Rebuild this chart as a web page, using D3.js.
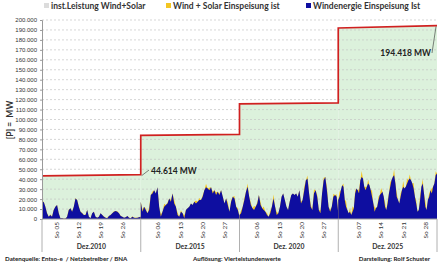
<!DOCTYPE html>
<html>
<head>
<meta charset="utf-8">
<script src="https://cdn.jsdelivr.net/npm/d3@7"></script>
<style>
  body { margin: 0; background: #fff; }
  svg { display: block; font-family: Lato, "Open Sans", sans-serif; }
</style>
</head>
<body>
<svg id="chart" width="440" height="264"></svg>
<script>
// Monate (je 31 Tage)
const monate = ["Dez.2010", "Dez.2015", "Dez. 2020", "Dez. 2025"];
// Sonntage pro Monat
const sonntage = [[5, 12, 19, 26], [6, 13, 20, 27], [6, 13, 20, 27], [7, 14, 21, 28]];

// installierte Leistung Wind+Solar (Monatsanfang / Monatsende) in MW
const leistungStart = [43300, 84000, 115800, 192000];
const leistungEnde = [44614, 85000, 116700, 194418];

// Windenergie Einspeisung (MW), gleichmaessig ueber den Monat verteilt
const wind2010 = [15700,17300,12300,5700,2300,4000,2300,9000,12300,14000,5700,700,700,300,300,2300,9000,10700,7300,12300,20700,19000,12300,7300,5700,4000,4000,9000,2300,700,5700,7300,2300,1300,2300,5700,4000,2300,1300,700,3000,4000,5700,7300,8000,7300,5700,3000,2300,1300,1700,3000,1300,700,2300,1300,1000,1300,1700,2300];
const wind2015 = [17300,7300,12300,9000,5700,9000,24000,25700,29000,25700,32000,12300,2300,7300,12300,14000,15700,20700,17300,25700,15700,12300,4000,2300,7300,5700,700,9000,10700,12300,15700,14000,17300,15700,17300,19000,19000,22300,29000,32000,30700,29000,32000,25700,29000,24000,27300,24000,29000,22300,15700,20700,14000,7300,17300,22300,20700,12300,9000,2300];
const wind2020 = [4000,5700,12300,19000,27300,32300,22300,14000,10700,9000,12300,15700,24000,14000,10700,9000,7300,4000,2300,5700,12300,20700,12300,4000,5700,12300,22300,25700,19000,12300,9000,17300,24000,25700,24000,25700,22300,29000,15700,19000,29000,39000,40700,25700,12300,9000,25700,29000,22300,9000,5700,25700,39000,42300,29000,12300,7300,12300,22300,24000,22300,5700];
const wind2025 = [19000,22300,29000,34000,32300,19000,12300,9000,5700,7300,4000,7300,10700,25700,30700,29000,25700,39000,42300,40700,32300,29000,32300,35700,34000,29000,22300,15700,7300,10700,12300,19000,24000,25700,27300,22300,12300,9000,15700,25700,32300,39000,42300,44000,35700,22300,19000,15700,22300,29000,32300,30700,32300,35700,39000,40700,39000,35700,30700,22300,15700,7300,9000,19000,32300,35700,25700,12300,9000,19000,22300,29000,25700,32300,35700,44000,45700];

// Solar-Tagesspitze (MW) pro Tag, wird zur Mittagszeit addiert
const solar2010 = [600,400,800,300,500,700,400,300,600,500,300,400,700,500,300,400,600,300,200,400,500,300,400,600,300,500,400,300,500,400,300];
const solar2015 = [2500,1500,3000,2000,3500,1500,2500,3000,1000,2000,3500,2500,1500,3000,2000,1500,2500,3000,2000,1500,3500,2500,2000,3000,1500,2500,2000,3000,1500,2500,2000];
const solar2020 = [3000,2000,3500,2500,4000,1500,3000,3500,2000,2500,4000,3000,2000,3500,2500,2000,3000,4000,2500,2000,3500,3000,2500,4000,2000,3000,2500,3500,2000,3000,2500];
const solar2025 = [5000,3500,6000,4000,5500,3000,4500,6000,3500,4000,6500,5000,3500,5500,4500,3000,5000,6000,4000,3500,6000,5000,4000,5500,3500,5000,4500,6000,3500,5000,4000];

const windDaten = [wind2010, wind2015, wind2020, wind2025];
const solarDaten = [solar2010, solar2015, solar2020, solar2025];

const yTicks = d3.range(0, 200001, 10000);

const svg = d3.select("#chart");
const pLeft = 42, pRight = 437, pTop = 20, pBottom = 219;

const x = d3.scaleBand().domain(monate).range([pLeft, pRight]).padding(0);
const y = d3.scaleLinear().domain([0, 200000]).range([pBottom, pTop]);
const fmt = d3.formatLocale({decimal: ",", thousands: ".", grouping: [3], currency: ["", "€"]}).format(",.0f");

// Tages-Skala pro Monat
function tagSkala(m) {
    return d3.scaleLinear().domain([0, 31]).range([x(m), x(m) + x.bandwidth()]);
}

// installierte Leistung: gruene Flaeche
monate.forEach((m, i) => {
    const xs = tagSkala(m);
    const pts = [{t: 0, v: leistungStart[i]}, {t: 31, v: leistungEnde[i]}];
    svg.append("path")
        .datum(pts)
        .attr("d", d3.area().x(d => xs(d.t)).y0(y(0)).y1(d => y(d.v)))
        .attr("fill", "#dcf1dc");
});

// Gitterlinien
svg.append("g")
    .selectAll("line")
    .data(yTicks.slice(1))
    .enter()
    .append("line")
    .attr("x1", pLeft).attr("x2", pRight)
    .attr("y1", d => y(d)).attr("y2", d => y(d))
    .attr("stroke", "#c4c4c4")
    .attr("stroke-width", 0.7)
    .attr("stroke-dasharray", "2,2");

// Wind + Solar und Wind
monate.forEach((m, i) => {
    const xs = tagSkala(m);
    const w = windDaten[i];
    const n = w.length;
    const pts = w.map((v, k) => {
        const t = k / (n - 1) * 31;
        const tag = Math.min(30, Math.floor(t));
        const frac = t - Math.floor(t);
        const s = (frac > 0.3 && frac < 0.7) ? solarDaten[i][tag] : 0;
        return {t: t, wind: v, ws: v + s};
    });
    svg.append("path")
        .datum(pts)
        .attr("d", d3.area().x(d => xs(d.t)).y0(y(0)).y1(d => y(d.ws)))
        .attr("fill", "#f3c623");
    svg.append("path")
        .datum(pts)
        .attr("d", d3.area().x(d => xs(d.t)).y0(y(0)).y1(d => y(d.wind)))
        .attr("fill", "#0e0ea0");
});

// rote Stufenlinie
const stufen = [];
monate.forEach((m, i) => {
    const xs = tagSkala(m);
    stufen.push([xs(0), y(leistungStart[i])]);
    stufen.push([xs(31), y(leistungEnde[i])]);
});
svg.append("path")
    .attr("d", d3.line()(stufen))
    .attr("fill", "none")
    .attr("stroke", "#d02020")
    .attr("stroke-width", 1.7);

// y-Achse
const yAxis = svg.append("g")
    .attr("transform", `translate(${pLeft},0)`)
    .call(d3.axisLeft(y).tickValues(yTicks).tickFormat(fmt).tickSize(2).tickPadding(3));
yAxis.select(".domain").attr("stroke", "#9a9a9a");
yAxis.selectAll(".tick line").attr("stroke", "#9a9a9a");
yAxis.selectAll("text").style("font-size", "6px").style("fill", "#333");

// x-Achse
svg.append("line")
    .attr("x1", pLeft).attr("x2", pRight)
    .attr("y1", pBottom).attr("y2", pBottom)
    .attr("stroke", "#9a9a9a");

// Monatstrennlinien
svg.append("g")
    .selectAll("line")
    .data(monate.concat(["ende"]))
    .enter()
    .append("line")
    .attr("x1", (d, i) => i < monate.length ? x(d) : pRight)
    .attr("x2", (d, i) => i < monate.length ? x(d) : pRight)
    .attr("y1", pBottom).attr("y2", 252)
    .attr("stroke", "#b0b0b0");

// Sonntage
monate.forEach((m, i) => {
    const xs = tagSkala(m);
    svg.append("g")
        .selectAll("text")
        .data(sonntage[i])
        .enter()
        .append("text")
        .attr("transform", d => `translate(${xs(d - 0.5) + 2.2},222) rotate(-90)`)
        .attr("text-anchor", "end")
        .style("font-size", "6.5px")
        .style("fill", "#333")
        .text(d => "So " + String(d).padStart(2, "0"));
});

// Monatsbeschriftung
svg.append("g")
    .selectAll("text")
    .data(monate)
    .enter()
    .append("text")
    .attr("x", d => x(d) + x.bandwidth() / 2)
    .attr("y", 249)
    .attr("text-anchor", "middle")
    .style("font-size", "6.8px")
    .style("font-weight", "bold")
    .style("fill", "#333")
    .text(d => d);

// Achsentitel
svg.append("text")
    .attr("transform", "translate(13,120) rotate(-90)")
    .attr("text-anchor", "middle")
    .style("font-size", "8.5px")
    .style("font-weight", "bold")
    .style("fill", "#333")
    .style("white-space", "pre")
    .text("[P] =  MW");

// Legende
const legende = [
    {x: 44, farbe: "#dcdcdc", text: "inst.Leistung Wind+Solar"},
    {x: 166, farbe: "#f3c623", text: "Wind + Solar Einspeisung ist"},
    {x: 306, farbe: "#0e0ea0", text: "Windenergie Einspeisung Ist"}
];
const lg = svg.append("g").selectAll("g").data(legende).enter().append("g");
lg.append("rect")
    .attr("x", d => d.x).attr("y", 3)
    .attr("width", 5).attr("height", 5)
    .attr("fill", d => d.farbe);
lg.append("text")
    .attr("x", d => d.x + 7).attr("y", 9)
    .style("font-size", "8.5px")
    .style("font-weight", "bold")
    .style("fill", "#333")
    .text(d => d.text);

// Beschriftung Leistungswerte
const xs0 = tagSkala(monate[0]);
const xs3 = tagSkala(monate[3]);
svg.append("line")
    .attr("x1", xs0(31) + 1).attr("y1", y(leistungEnde[0]) + 1)
    .attr("x2", 149).attr("y2", 170)
    .attr("stroke", "#333").attr("stroke-width", 0.6);
svg.append("text")
    .attr("x", 151).attr("y", 173.5)
    .style("font-size", "8.5px").style("font-weight", "bold").style("fill", "#222")
    .text(fmt(leistungEnde[0]) + " MW");
svg.append("line")
    .attr("x1", xs3(31) - 1).attr("y1", y(leistungEnde[3]) + 1)
    .attr("x2", 432).attr("y2", 53)
    .attr("stroke", "#333").attr("stroke-width", 0.6);
svg.append("text")
    .attr("x", 431).attr("y", 56)
    .attr("text-anchor", "end")
    .style("font-size", "8.5px").style("font-weight", "bold").style("fill", "#222")
    .text(fmt(leistungEnde[3]) + " MW");

// Fusszeile
const fuss = [
    {x: 5, anchor: "start", text: "Datenquelle: Entso-e  / Netzbetreiber / BNA"},
    {x: 193, anchor: "start", text: "Auflösung: Viertelstundenwerte"},
    {x: 430, anchor: "end", text: "Darstellung: Rolf Schuster"}
];
svg.append("g").selectAll("text").data(fuss).enter().append("text")
    .attr("x", d => d.x).attr("y", 261)
    .attr("text-anchor", d => d.anchor)
    .style("font-size", "6.2px")
    .style("font-weight", "bold")
    .style("fill", "#222")
    .style("white-space", "pre")
    .text(d => d.text);
</script>
</body>
</html>
